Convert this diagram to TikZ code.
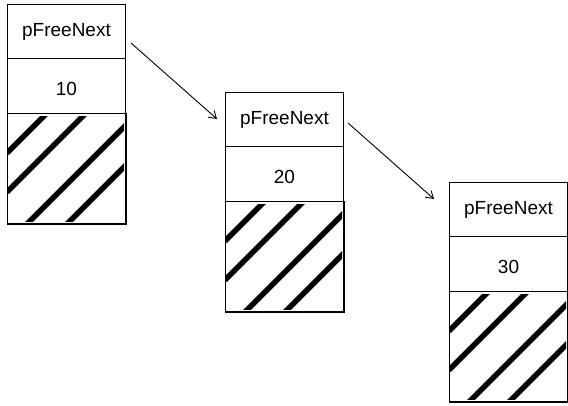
\documentclass[tikz,border=0pt]{standalone}
\usepackage{fontspec}
\setmainfont{Liberation Sans}
\usetikzlibrary{arrows.meta}
\newfontfamily\cellfont{Liberation Sans}
\tikzset{
  cellbox/.style={draw=black, line width=1pt, minimum width=118pt, inner sep=0pt,
    anchor=north west, font=\cellfont\fontsize{19}{22}\selectfont},
  namecell/.style={cellbox, minimum height=54pt},
  valcell/.style={cellbox, minimum height=55pt},
  hatchcell/.style={cellbox, minimum height=110pt},
  hatchline/.style={line width=5.5pt, line cap=butt},
  link/.style={line width=0.9pt, -{Straight Barb[length=7pt,width=9pt]}}
}
\begin{document}
\begin{tikzpicture}[x=1pt,y=-1pt]
\useasboundingbox[fill=white] (0,0) rectangle (568,405);
\foreach \i/\x/\y/\v in {1/7/4/10, 2/225/92/20, 3/449/182/30}{
  \node[namecell] (n\i) at (\x,\y) {pFreeNext};
  \node[valcell] (v\i) at (\x,\y+54) {};
  \node[yshift=-3pt, font=\cellfont\fontsize{19}{22}\selectfont] (t\i) at (v\i.center) {\v};
  \node[hatchcell] (h\i) at (\x,\y+109) {};
  \begin{scope}
    \clip ([yshift=-3pt]h\i.north west) rectangle ([xshift=-2pt,yshift=2.5pt]h\i.south east);
    \foreach \c in {40,79,131,171}{
      \draw[hatchline] ([xshift=\c pt]h\i.north west) -- ([yshift=-\c pt]h\i.north west);
    }
  \end{scope}
  \draw[line width=1pt] (h\i.north west) rectangle (h\i.south east);
}
\coordinate (a1s) at (131,43);
\coordinate (a1e) at (217,119);
\coordinate (a2s) at (348,123);
\coordinate (a2e) at (434,199);
\draw[link] (a1s) -- (a1e);
\draw[link] (a2s) -- (a2e);
\end{tikzpicture}
\end{document}
